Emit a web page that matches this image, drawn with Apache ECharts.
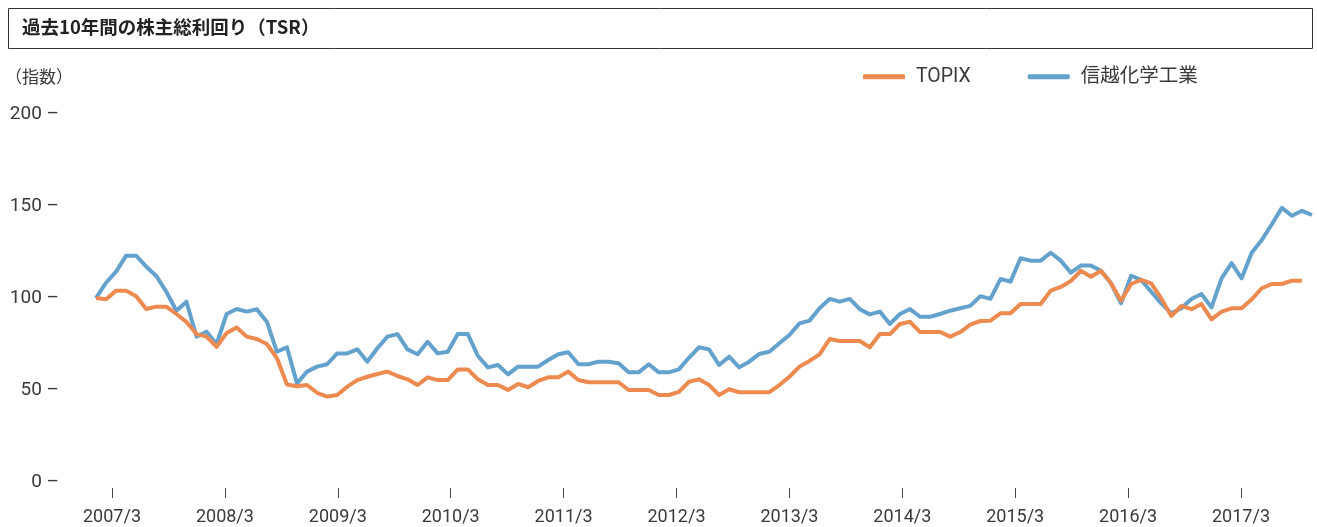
<!DOCTYPE html>
<html>
<head>
<meta charset="utf-8">
<script src="https://cdn.jsdelivr.net/npm/echarts@6/dist/echarts.min.js"></script>
<style>
  html, body { margin: 0; padding: 0; background: #fff; }
  #chart { width: 1317px; height: 527px; }
</style>
</head>
<body>
<div id="chart"></div>
<script>
// 株主総利回り（指数）: 読み取り値
var topix = [
  100, 99.3, 104, 104, 101, 94, 95.3, 95.3, 91.3, 87, 80.4, 79, 73.5, 81, 84, 79, 77.7, 75, 67.4, 53, 52,
  52.7, 48.5, 46.4, 47.3, 51.8, 55.4, 57.2, 58.7, 60, 57.6, 55.8, 52.7, 56.9, 55.4, 55.4, 61.2, 61.2, 55.8, 52.7, 52.7,
  50, 53.3, 51.5, 54.9, 56.9, 56.9, 60, 55.4, 54.2, 54.2, 54.2, 54.2, 50, 50, 50, 47.3, 47.3, 49, 54.5, 55.8,
  52.7, 47.3, 50.4, 48.8, 48.8, 48.8, 48.8, 52.7, 57.2, 62.7, 65.8, 69.4, 77.7, 76.6, 76.6, 76.6, 73.2, 80.4, 80.4, 85.9,
  87.1, 81.5, 81.5, 81.5, 79, 81.5, 85.5, 87.5, 87.7, 91.7, 91.7, 96.7, 96.7, 96.7, 104, 106, 109.2, 114.8, 111.6, 114.8,
  108, 98.5, 107.6, 109.8, 108, 99.8, 90.2, 95.7, 93.9, 96.7, 88.4, 92.6, 94.4, 94.4, 99.3, 105.3, 107.6, 107.6, 109.4, 109.4
];
var shinEtsu = [
  100, 108.3, 114.3, 123, 123, 117, 112, 103.4, 93.1, 98, 79, 81.7, 75, 91.3, 94, 92.6, 93.9, 87.1, 70.8, 73.2, 53.6,
  60, 62.7, 64, 69.9, 69.9, 72.1, 65.4, 72.7, 79, 80.4, 72.1, 69.4, 76.2, 69.9, 70.8, 80.4, 80.4, 68.5, 62.3, 63.6,
  58.5, 62.7, 62.7, 62.7, 66.3, 69.4, 70.5, 64, 64, 65.4, 65.4, 64.5, 59.6, 59.6, 64, 59.6, 59.6, 61.2, 67.5, 73.2,
  72.1, 63.6, 68.1, 62.3, 65.4, 69.6, 70.8, 75.4, 79.9, 86.2, 87.7, 94.4, 99.5, 98, 99.5, 93.9, 91.1, 92.6, 85.9, 91.3,
  94, 89.8, 89.8, 91.3, 93.1, 94.4, 95.7, 101, 99.5, 110.3, 108.9, 121.6, 120.3, 120.3, 124.6, 120.3, 113.8, 117.6, 117.6, 114.8,
  108, 97.1, 112.1, 109.8, 103.4, 97.1, 91.7, 94.4, 99.5, 102.2, 94.9, 110.7, 118.9, 110.7, 124.6, 131.5, 140, 149, 144.7, 147.4, 145.1
];
var tickLabels = ['2007/3', '2008/3', '2009/3', '2010/3', '2011/3', '2012/3', '2013/3', '2014/3', '2015/3', '2016/3', '2017/3'];
var seriesNames = ['TOPIX', '信越化学工業'];

var fontLatin = 'Roboto, "Noto Sans CJK JP", sans-serif';
var textColor = '#3a3a3a';

var chart = echarts.init(document.getElementById('chart'), null, { renderer: 'canvas' });

var option = {
  animation: false,
  backgroundColor: '#fff',
  graphic: [
    {
      type: 'rect',
      shape: { x: 8.5, y: 8.5, width: 1304, height: 40 },
      style: { fill: '#fff', stroke: '#333', lineWidth: 1 },
      z: 1
    },
    {
      type: 'text',
      left: 22, top: 18,
      style: {
        text: '過去10年間の株主総利回り（TSR）',
        font: 'bold 18.5px "Noto Sans CJK JP", sans-serif',
        fill: '#222'
      },
      z: 2
    },
    {
      type: 'text',
      left: 5, top: 68,
      style: {
        text: '（指数）',
        font: '17px "Noto Sans CJK JP", sans-serif',
        fill: textColor
      }
    }
  ],
  legend: {
    left: 858,
    top: 62,
    icon: 'roundRect',
    itemWidth: 42,
    itemHeight: 5,
    itemGap: 57,
    textStyle: { fontSize: 19.5, color: textColor, fontFamily: fontLatin, padding: [0, 0, 0, 6] },
    data: seriesNames
  },
  grid: [
    { left: 96, right: 5, top: 114, bottom: 45 },
    { left: 112, right: 76, top: 114, bottom: 39 }
  ],
  xAxis: [
    {
      type: 'category',
      gridIndex: 0,
      boundaryGap: false,
      data: shinEtsu.map(function (v, i) { return i; }),
      show: false
    },
    {
      type: 'category',
      gridIndex: 1,
      boundaryGap: false,
      data: tickLabels,
      axisLine: { show: false },
      axisTick: { show: true, length: 10, lineStyle: { color: '#444', width: 1 } },
      axisLabel: { margin: 21, fontSize: 18, color: textColor, fontFamily: fontLatin }
    }
  ],
  yAxis: [
    {
      type: 'value',
      gridIndex: 0,
      min: 0, max: 200, interval: 50,
      axisLine: { show: false },
      axisTick: { show: false },
      splitLine: { show: false },
      axisLabel: {
        margin: 37,
        fontSize: 19,
        color: textColor,
        fontFamily: fontLatin,
        formatter: function (v) { return v + ' –'; }
      }
    },
    { type: 'value', gridIndex: 1, min: 0, max: 200, show: false }
  ],
  series: [
    {
      name: seriesNames[0],
      type: 'line',
      xAxisIndex: 0, yAxisIndex: 0,
      data: topix,
      showSymbol: false,
      color: '#EC8A4F',
      lineStyle: { width: 4, color: '#EC8A4F', join: 'round' },
      z: 3
    },
    {
      name: seriesNames[1],
      type: 'line',
      xAxisIndex: 0, yAxisIndex: 0,
      data: shinEtsu,
      showSymbol: false,
      color: '#64A2CE',
      lineStyle: { width: 4, color: '#64A2CE', join: 'round' },
      z: 2
    }
  ]
};

chart.setOption(option);
</script>
</body>
</html>
